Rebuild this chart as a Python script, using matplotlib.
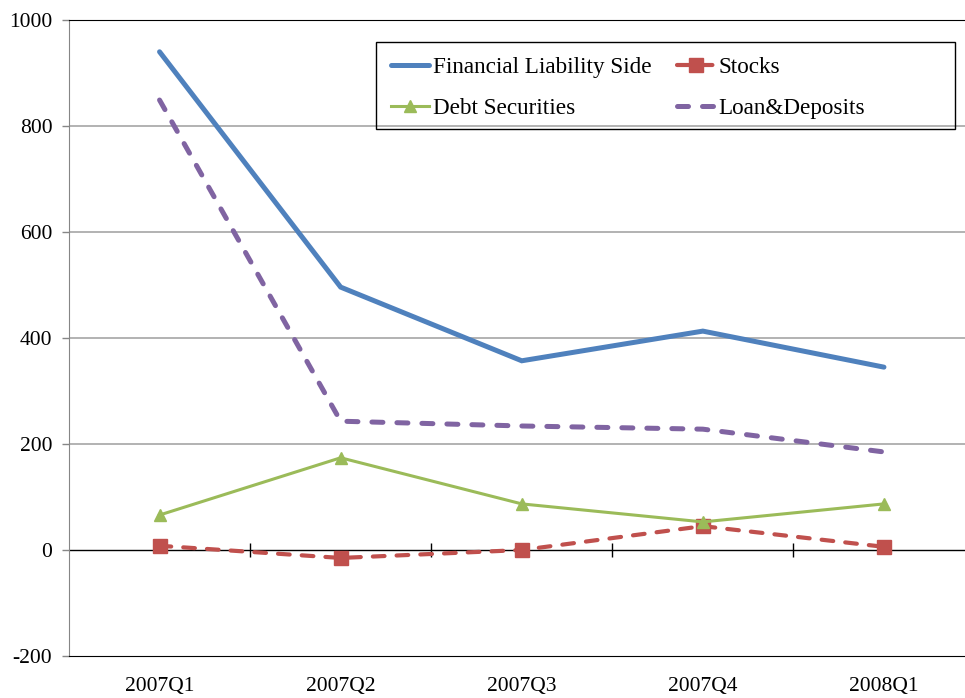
import numpy as np
import matplotlib.pyplot as plt
from matplotlib.patches import Rectangle

plt.rcParams['font.family'] = ['Liberation Serif', 'DejaVu Serif']
plt.rcParams['axes.unicode_minus'] = False

quarters = ['2007Q1', '2007Q2', '2007Q3', '2007Q4', '2008Q1']
financial_liability = [940, 496, 357, 413, 345]
stocks = [8, -15, 0, 45, 6]
debt_securities = [66, 174, 87, 53, 87]
loan_deposits = [849, 243, 234, 228, 185]
yticks = [-200, 0, 200, 400, 600, 800, 1000]

W, H = 965, 698
fig = plt.figure(figsize=(W / 100, H / 100), dpi=100)
ax = fig.add_axes([69 / W, (H - 656) / H, (974.5 - 69) / W, (656 - 20) / H])

x = np.arange(len(quarters))
ymin, ymax = -200, 1000

# gridlines
for y in [200, 400, 600, 800]:
    ax.axhline(y, color='#ADADAD', lw=1.3, zorder=0)
ax.axhline(0, color='black', lw=1, zorder=1)

l_fin, = ax.plot(x, financial_liability, color='#4F81BD', lw=3.6, solid_capstyle='round',
                 solid_joinstyle='miter', label='Financial Liability Side', zorder=3)
l_stk, = ax.plot(x, stocks, color='#C0504D', lw=3, ls=(0, (2.8, 2.9)), dash_capstyle='round',
                 marker='s', ms=10, mec='#C0504D', label='Stocks', zorder=4)
l_debt, = ax.plot(x, debt_securities, color='#9BBB59', lw=2.2, marker='^', ms=9,
                  label='Debt Securities', zorder=4)
l_loan, = ax.plot(x, loan_deposits, color='#8064A2', lw=3.6, ls=(0, (2.2, 2.8)),
                  dash_capstyle='round', label='Loan&Deposits', zorder=3)

ax.set_xlim(-0.5, len(quarters) - 0.5)
ax.set_ylim(ymin, ymax)
ax.set_yticks(yticks)
ax.set_xticks(x)
ax.set_xticklabels(quarters)
ax.tick_params(axis='x', length=0, pad=15, labelsize=15.5)
ax.tick_params(axis='y', length=5, width=1, color='#868686', pad=7, labelsize=15.5)

ax.spines['right'].set_visible(False)
ax.spines['left'].set_color('#868686')
ax.spines['top'].set_color('black')
ax.spines['bottom'].set_color('black')

# category boundary ticks on the zero line
sec = ax.secondary_xaxis((0 - ymin) / (ymax - ymin))
sec.set_xticks(x[:-1] + 0.5)
sec.tick_params(direction='inout', length=10, width=1, labelbottom=False)
sec.spines['bottom'].set_visible(False)

# legend, filled column-wise -> order so rows read FLS/Stocks, Debt/Loan
handles = [l_fin, l_debt, l_stk, l_loan]
leg = fig.legend(handles=handles, labels=[h.get_label() for h in handles],
                 loc='upper left', bbox_to_anchor=((376 + 15) / W, 1 - (42 + 15) / H),
                 ncol=2, frameon=False, fontsize=16.7, handlelength=1.65,
                 handletextpad=0.15, columnspacing=1.1, labelspacing=0.85,
                 borderaxespad=0, borderpad=0)
fig.patches.append(Rectangle((376 / W, 1 - 129 / H), (955 - 376) / W, (129 - 42) / H,
                             transform=fig.transFigure, fill=False, ec='black', lw=1))

fig.savefig('out.png', dpi=100)
